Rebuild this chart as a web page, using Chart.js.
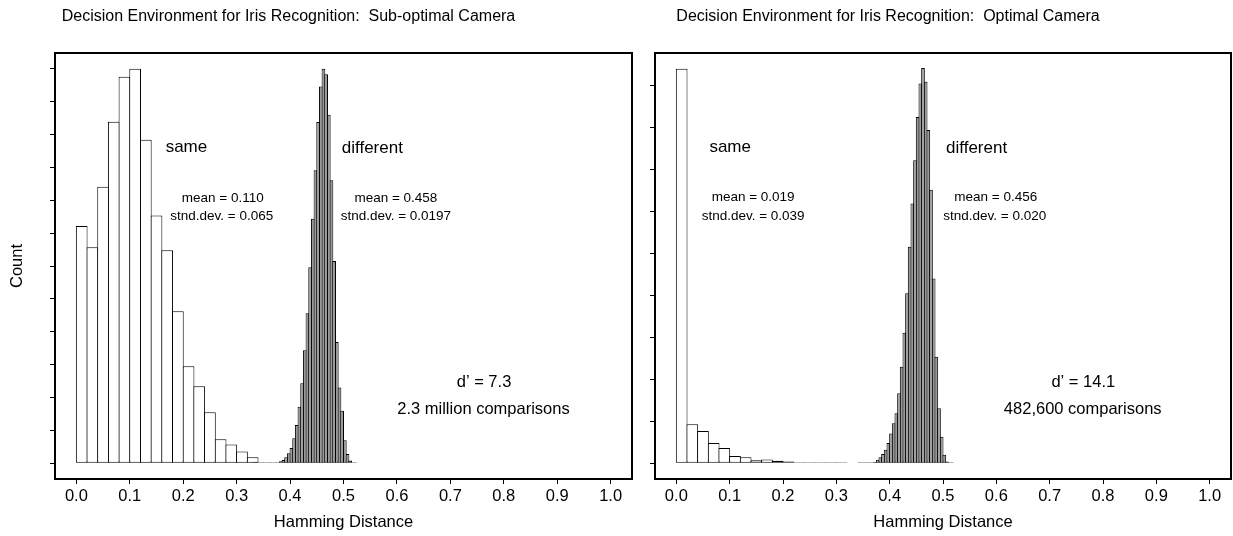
<!DOCTYPE html>
<html>
<head>
<meta charset="utf-8">
<title>Decision Environment for Iris Recognition</title>
<script src="https://cdn.jsdelivr.net/npm/chart.js@4.4.1/dist/chart.umd.min.js"></script>
<style>
  html, body { margin: 0; padding: 0; background: #fff; }
  #wrap { position: relative; width: 1233px; height: 536px; }
  .panel { position: absolute; top: 0; }
  #left { left: 0; }
  #right { left: 640px; }
</style>
</head>
<body>
<div id="wrap">
  <div class="panel" id="left"><canvas id="subChart" width="640" height="536"></canvas></div>
  <div class="panel" id="right"><canvas id="optChart" width="593" height="536"></canvas></div>
</div>
<script>
// tick values
const xTicks = [0.0, 0.1, 0.2, 0.3, 0.4, 0.5, 0.6, 0.7, 0.8, 0.9, 1.0];
const yTicksSub = [0, 1, 2, 3, 4, 5, 6, 7, 8, 9, 10, 11, 12];
const yTicksOpt = [0, 1, 2, 3, 4, 5, 6, 7, 8, 9];

// bin widths
const sameWidth = 0.02;
const diffWidth = 0.005;

// sub-optimal camera: "same" (bin starts, counts)
const sameBinsSub = [0.00, 0.02, 0.04, 0.06, 0.08, 0.10, 0.12, 0.14, 0.16, 0.18, 0.20, 0.22, 0.24, 0.26, 0.28, 0.30, 0.32];
const sameCountSub = [7.22, 6.57, 8.41, 10.39, 11.76, 12.0, 9.84, 7.54, 6.48, 4.62, 2.95, 2.34, 1.55, 0.73, 0.57, 0.36, 0.18];

// sub-optimal camera: "different"
const diffBinsSub = [0.330, 0.335, 0.340, 0.345, 0.350, 0.355, 0.360, 0.365, 0.370, 0.375,
                     0.380, 0.385, 0.390, 0.395, 0.400, 0.405, 0.410, 0.415, 0.420, 0.425,
                     0.430, 0.435, 0.440, 0.445, 0.450, 0.455, 0.460, 0.465, 0.470, 0.475,
                     0.480, 0.485, 0.490, 0.495, 0.500, 0.505, 0.510, 0.515, 0.520];
const diffCountSub = [0.005, 0.005, 0.005, 0.005, 0.005, 0.005, 0.008, 0.01, 0.02, 0.03,
                      0.06, 0.10, 0.18, 0.30, 0.46, 0.76, 1.16, 1.72, 2.43, 3.44,
                      4.56, 5.96, 7.44, 8.91, 10.38, 11.46, 12.0, 11.83, 10.6, 8.61,
                      6.15, 3.69, 2.3, 1.6, 0.7, 0.28, 0.08, 0.03, 0.01];

// optimal camera: "same"
const sameBinsOpt = [0.00, 0.02, 0.04, 0.06, 0.08, 0.10, 0.12, 0.14, 0.16, 0.18, 0.20, 0.22, 0.24, 0.26, 0.28, 0.30];
const sameCountOpt = [9.40, 0.93, 0.77, 0.48, 0.36, 0.17, 0.14, 0.07, 0.09, 0.06, 0.04, 0.02, 0.01, 0.008, 0.006, 0.005];

// optimal camera: "different"
const diffBinsOpt = [0.340, 0.345, 0.350, 0.355, 0.360, 0.365, 0.370, 0.375, 0.380, 0.385,
                     0.390, 0.395, 0.400, 0.405, 0.410, 0.415, 0.420, 0.425, 0.430, 0.435,
                     0.440, 0.445, 0.450, 0.455, 0.460, 0.465, 0.470, 0.475, 0.480, 0.485,
                     0.490, 0.495, 0.500, 0.505, 0.510, 0.515];
const diffCountOpt = [0.005, 0.005, 0.005, 0.006, 0.01, 0.015, 0.03, 0.08, 0.14, 0.22,
                      0.32, 0.48, 0.71, 0.95, 1.19, 1.67, 2.30, 3.11, 4.05, 5.16,
                      6.19, 7.22, 8.25, 9.05, 9.42, 9.09, 7.94, 6.52, 4.40, 2.54,
                      1.31, 0.63, 0.20, 0.04, 0.01, 0.005];

const FONT = '"Liberation Sans", Arial, Helvetica, sans-serif';
Chart.defaults.font.family = FONT;
Chart.defaults.color = '#000';

function toPoints(bins, counts, w) {
  return bins.map((b, i) => ({ x: b + w / 2, y: counts[i] }));
}

// box round the plot, panel title and the text notes
function framePlugin(title, notes) {
  return {
    id: 'frame',
    afterDatasetsDraw(chart) {
      const { ctx, chartArea: a, scales } = chart;
      ctx.save();
      ctx.strokeStyle = '#000';
      ctx.lineWidth = 2;
      ctx.strokeRect(a.left, a.top, a.right - a.left, a.bottom - a.top);
      ctx.fillStyle = '#000';
      ctx.textAlign = 'center';
      ctx.textBaseline = 'middle';
      ctx.font = title.size + 'px ' + FONT;
      ctx.fillText(title.text, (a.left + a.right) / 2 + title.shift, title.y);
      notes.forEach(n => {
        ctx.font = n.size + 'px ' + FONT;
        ctx.fillText(n.text, scales.x.getPixelForValue(n.x), scales.y.getPixelForValue(n.y));
      });
      ctx.restore();
    }
  };
}

function makeChart(id, cfg) {
  // bars a touch wider than the bin so neighbours share one 1px edge
  const barCommon = {
    borderColor: '#000',
    borderWidth: 1,
    borderSkipped: false,
    inflateAmount: 0,
    categoryPercentage: 1,
    grouped: false,
    minBarLength: 1
  };
  const xBase = {
    type: 'linear',
    min: -0.04,
    max: 1.04,
    offset: false
  };
  return new Chart(document.getElementById(id), {
    type: 'bar',
    data: {
      datasets: [
        Object.assign({
          label: 'same',
          data: toPoints(cfg.sameBins, cfg.sameCount, sameWidth),
          backgroundColor: '#ffffff',
          barPercentage: 1.094,
          xAxisID: 'x'
        }, barCommon),
        Object.assign({
          label: 'different',
          data: toPoints(cfg.diffBins, cfg.diffCount, diffWidth),
          backgroundColor: '#999999',
          barPercentage: 1.375,
          xAxisID: 'x2'
        }, barCommon)
      ]
    },
    options: {
      responsive: false,
      animation: false,
      layout: { padding: { top: 53, left: 0, right: cfg.padRight, bottom: 0 } },
      plugins: {
        legend: { display: false },
        tooltip: { enabled: false },
        title: { display: false }
      },
      scales: {
        x: Object.assign({
          afterBuildTicks: (s) => { s.ticks = xTicks.map(v => ({ value: v })); },
          afterFit: (s) => { s.height = 57; },
          grid: { offset: false, drawOnChartArea: false, drawTicks: true, tickLength: 5, color: '#000' },
          border: { display: false },
          ticks: { padding: 3, font: { size: 16.5 }, callback: (v) => v.toFixed(1) },
          title: { display: true, text: 'Hamming Distance', font: { size: 16.5 }, padding: { top: 0, bottom: 4 } }
        }, xBase),
        x2: Object.assign({ display: false }, xBase),
        y: {
          min: cfg.yMin,
          max: cfg.yMax,
          afterBuildTicks: (s) => { s.ticks = cfg.yTicks.map(v => ({ value: v })); },
          afterFit: (s) => { s.width = cfg.yWidth; },
          grid: { drawOnChartArea: false, drawTicks: true, tickLength: 5, color: '#000' },
          border: { display: false },
          ticks: { display: false },
          title: { display: cfg.yTitle !== '', text: cfg.yTitle, font: { size: 16.5 }, padding: { top: 8, bottom: 0 } }
        }
      }
    },
    plugins: [framePlugin(cfg.title, cfg.notes)]
  });
}

makeChart('subChart', {
  title: { text: 'Decision Environment for Iris Recognition:  Sub-optimal Camera', size: 16, y: 17, shift: -55 },
  sameBins: sameBinsSub, sameCount: sameCountSub,
  diffBins: diffBinsSub, diffCount: diffCountSub,
  yTicks: yTicksSub, yMin: -0.48, yMax: 12.48,
  yWidth: 55, padRight: 8, yTitle: 'Count',
  notes: [
    { text: 'same', x: 0.206, y: 9.6, size: 17 },
    { text: 'mean = 0.110', x: 0.274, y: 8.07, size: 13.5 },
    { text: 'stnd.dev. = 0.065', x: 0.272, y: 7.5, size: 13.5 },
    { text: 'different', x: 0.554, y: 9.57, size: 17 },
    { text: 'mean = 0.458', x: 0.598, y: 8.07, size: 13.5 },
    { text: 'stnd.dev. = 0.0197', x: 0.598, y: 7.5, size: 13.5 },
    { text: 'd\u2019 = 7.3', x: 0.763, y: 2.45, size: 16.5 },
    { text: '2.3 million comparisons', x: 0.762, y: 1.64, size: 16.5 }
  ]
});

makeChart('optChart', {
  title: { text: 'Decision Environment for Iris Recognition:  Optimal Camera', size: 16, y: 17, shift: -55 },
  sameBins: sameBinsOpt, sameCount: sameCountOpt,
  diffBins: diffBinsOpt, diffCount: diffCountOpt,
  yTicks: yTicksOpt, yMin: -0.376, yMax: 9.776,
  yWidth: 15, padRight: 2, yTitle: '',
  notes: [
    { text: 'same', x: 0.101, y: 7.52, size: 17 },
    { text: 'mean = 0.019', x: 0.144, y: 6.33, size: 13.5 },
    { text: 'stnd.dev. = 0.039', x: 0.144, y: 5.88, size: 13.5 },
    { text: 'different', x: 0.563, y: 7.51, size: 17 },
    { text: 'mean = 0.456', x: 0.599, y: 6.33, size: 13.5 },
    { text: 'stnd.dev. = 0.020', x: 0.597, y: 5.88, size: 13.5 },
    { text: 'd\u2019 = 14.1', x: 0.763, y: 1.92, size: 16.5 },
    { text: '482,600 comparisons', x: 0.762, y: 1.29, size: 16.5 }
  ]
});
</script>
</body>
</html>
